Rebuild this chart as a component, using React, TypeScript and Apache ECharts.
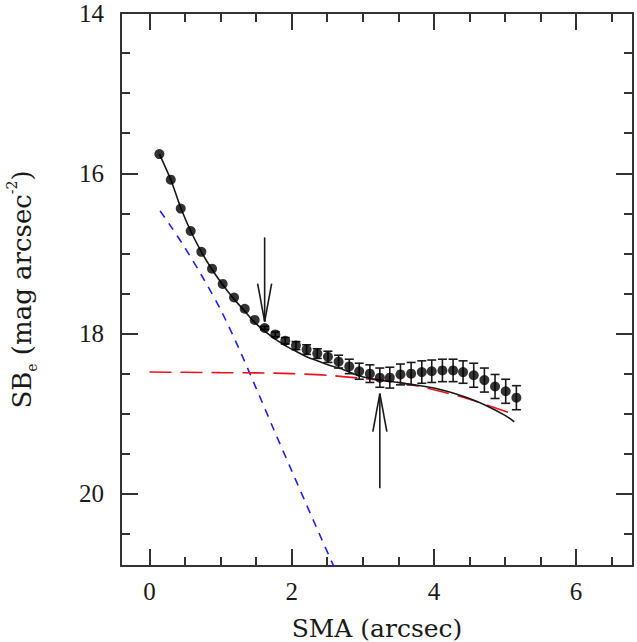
import React, { useEffect, useRef } from "react";
import * as echarts from "echarts";

// ---- data ----
const xMajor = [0, 2, 4, 6];
const xMinor = [0.5, 1, 1.5, 2.5, 3, 3.5, 4.5, 5, 5.5, 6.5];
const yMajor = [14, 16, 18, 20];
const yMinor = [14.5, 15, 15.5, 16.5, 17, 17.5, 18.5, 19, 19.5, 20.5];

const dataX = [0.14, 0.3, 0.44, 0.58, 0.73, 0.88, 1.03, 1.19, 1.34, 1.48, 1.62, 1.77, 1.91, 2.06, 2.21, 2.36, 2.51, 2.66, 2.81, 2.95, 3.1, 3.24, 3.38, 3.53, 3.68, 3.83, 3.97, 4.12, 4.27, 4.41, 4.56, 4.71, 4.86, 5.01, 5.16];
const dataY = [15.76, 16.08, 16.44, 16.72, 16.98, 17.19, 17.38, 17.55, 17.69, 17.83, 17.93, 18.01, 18.09, 18.15, 18.2, 18.25, 18.29, 18.35, 18.41, 18.47, 18.5, 18.55, 18.55, 18.51, 18.5, 18.48, 18.47, 18.46, 18.46, 18.48, 18.52, 18.58, 18.66, 18.72, 18.8];
const dataErr = [0, 0, 0, 0, 0, 0, 0, 0, 0, 0, 0.02, 0.03, 0.04, 0.05, 0.06, 0.06, 0.07, 0.08, 0.09, 0.1, 0.11, 0.12, 0.13, 0.13, 0.14, 0.14, 0.14, 0.14, 0.14, 0.14, 0.15, 0.15, 0.15, 0.15, 0.15];

const blackX = [0.14, 0.3, 0.44, 0.58, 0.73, 0.88, 1.03, 1.19, 1.34, 1.48, 1.62, 1.77, 1.91, 2.06, 2.21, 2.36, 2.51, 2.73, 2.96, 3.24, 3.66, 4.0, 4.22, 4.5, 4.74, 5.0, 5.13];
const blackY = [15.76, 16.08, 16.43, 16.72, 16.98, 17.2, 17.39, 17.57, 17.72, 17.86, 17.97, 18.07, 18.15, 18.22, 18.29, 18.34, 18.39, 18.45, 18.53, 18.58, 18.63, 18.68, 18.73, 18.81, 18.9, 19.02, 19.1];

const blueX = [0.15, 0.3, 0.5, 0.75, 1.0, 1.25, 1.5, 1.75, 2.0, 2.3, 2.65];
const blueY = [16.47, 16.66, 16.93, 17.3, 17.7, 18.17, 18.68, 19.2, 19.71, 20.32, 21.02];

const redX = [0.0, 0.5, 1.0, 1.5, 2.0, 2.5, 3.0, 3.5, 4.0, 4.5, 5.13];
const redY = [18.48, 18.483, 18.487, 18.49, 18.5, 18.52, 18.56, 18.61, 18.7, 18.82, 19.01];

const arrowX = [1.62, 3.24];
const arrowFrom = [16.8, 19.93];
const arrowTo = [17.85, 18.75];

const X_MIN = -0.4;
const X_MAX = 6.8;
const Y_MIN = 14;
const Y_MAX = 20.9;

const INK = "#1a1a1a";
const FRAME = "#333333";
const TICK_FONT = "Liberation Serif";
const TITLE_FONT = "DejaVu Serif";

function xAxisDef(position: "bottom" | "top", values: number[], len: number, labels: boolean, line: boolean) {
  return {
    type: "value",
    position,
    min: X_MIN,
    max: X_MAX,
    axisLine: { show: line, onZero: false, lineStyle: { color: FRAME, width: 2 } },
    axisTick: { show: true, inside: true, length: len, customValues: values, lineStyle: { color: FRAME, width: 2 } },
    axisLabel: labels
      ? { show: true, customValues: values, margin: 13, fontSize: 25, fontFamily: TICK_FONT, color: INK }
      : { show: false },
    splitLine: { show: false },
  };
}

function yAxisDef(position: "left" | "right", values: number[], len: number, labels: boolean, line: boolean) {
  return {
    type: "value",
    position,
    inverse: true,
    min: Y_MIN,
    max: Y_MAX,
    axisLine: { show: line, onZero: false, lineStyle: { color: FRAME, width: 2 } },
    axisTick: { show: true, inside: true, length: len, customValues: values, lineStyle: { color: FRAME, width: 2 } },
    axisLabel: labels
      ? { show: true, customValues: values, margin: 17, fontSize: 25, fontFamily: TICK_FONT, color: INK }
      : { show: false },
    splitLine: { show: false },
  };
}

export default function App() {
  const ref = useRef<HTMLDivElement>(null);

  useEffect(() => {
    if (!ref.current) return;
    const chart = echarts.init(ref.current, undefined, { renderer: "svg" });

    const points = dataX.map((x, i) => [x, dataY[i]]);
    const errs = dataX
      .map((x, i) => [x, dataY[i] - dataErr[i], dataY[i] + dataErr[i], dataErr[i]])
      .filter((d) => d[3] > 0);
    const black = blackX.map((x, i) => [x, blackY[i]]);
    const blue = blueX.map((x, i) => [x, blueY[i]]);
    const red = redX.map((x, i) => [x, redY[i]]);
    const arrows = arrowX.map((x, i) => [x, arrowFrom[i], arrowTo[i]]);

    const xMain: any = xAxisDef("bottom", xMajor, 17, true, true);
    xMain.name = "SMA (arcsec)";
    xMain.nameLocation = "middle";
    xMain.nameGap = 50;
    xMain.nameTextStyle = { fontFamily: TITLE_FONT, fontSize: 25, color: INK };

    const yMain: any = yAxisDef("left", yMajor, 17, true, true);
    yMain.name = "{a|SB}{s|e}{a| (mag arcsec}{p|-2}{a|)}";
    yMain.nameLocation = "middle";
    yMain.nameGap = 82;
    yMain.nameRotate = 90;
    yMain.nameTextStyle = {
      fontFamily: TITLE_FONT,
      fontSize: 26,
      color: INK,
      rich: {
        a: { fontFamily: TITLE_FONT, fontSize: 26, color: INK, lineHeight: 34, verticalAlign: "middle" },
        s: { fontFamily: TITLE_FONT, fontSize: 14, color: INK, lineHeight: 34, verticalAlign: "bottom" },
        p: { fontFamily: TITLE_FONT, fontSize: 14, color: INK, lineHeight: 34, verticalAlign: "top" },
      },
    };

    chart.setOption({
      animation: false,
      backgroundColor: "#ffffff",
      grid: { left: 121, right: 4, top: 13, bottom: 76, containLabel: false, outerBoundsMode: "none" },
      xAxis: [
        xMain,
        xAxisDef("bottom", xMinor, 9, false, false),
        xAxisDef("top", xMajor, 17, false, true),
        xAxisDef("top", xMinor, 9, false, false),
      ],
      yAxis: [
        yMain,
        yAxisDef("left", yMinor, 9, false, false),
        yAxisDef("right", yMajor, 17, false, true),
        yAxisDef("right", yMinor, 9, false, false),
      ],
      series: [
        {
          type: "line",
          data: blue,
          smooth: 0.3,
          showSymbol: false,
          symbol: "none",
          clip: true,
          lineStyle: { color: "#1f1fff", width: 1.6, type: [8, 7] },
          z: 2,
        },
        {
          type: "line",
          data: red,
          smooth: 0.3,
          showSymbol: false,
          symbol: "none",
          clip: true,
          lineStyle: { color: "#e8141b", width: 1.6, type: [22, 9] },
          z: 2,
        },
        {
          type: "line",
          data: black,
          smooth: 0.3,
          showSymbol: false,
          symbol: "none",
          clip: true,
          lineStyle: { color: INK, width: 1.6 },
          z: 3,
        },
        {
          type: "custom",
          data: errs,
          z: 4,
          renderItem: (params: any, api: any) => {
            const x = api.value(0);
            const lo = api.coord([x, api.value(1)]);
            const hi = api.coord([x, api.value(2)]);
            const w = 4.5;
            const st = { stroke: INK, lineWidth: 1.6 };
            return {
              type: "group",
              children: [
                { type: "line", shape: { x1: lo[0], y1: lo[1], x2: hi[0], y2: hi[1] }, style: st },
                { type: "line", shape: { x1: lo[0] - w, y1: lo[1], x2: lo[0] + w, y2: lo[1] }, style: st },
                { type: "line", shape: { x1: hi[0] - w, y1: hi[1], x2: hi[0] + w, y2: hi[1] }, style: st },
              ],
            };
          },
        },
        {
          type: "scatter",
          data: points,
          symbol: "circle",
          symbolSize: 10,
          itemStyle: { color: "#000000" },
          z: 5,
        },
        {
          type: "custom",
          data: arrows,
          z: 6,
          renderItem: (params: any, api: any) => {
            const x = api.value(0);
            const p0 = api.coord([x, api.value(1)]);
            const p1 = api.coord([x, api.value(2)]);
            const dir = p1[1] > p0[1] ? 1 : -1;
            const hl = 38;
            const hw = 7;
            const st = { stroke: INK, lineWidth: 1.6 };
            return {
              type: "group",
              children: [
                { type: "line", shape: { x1: p0[0], y1: p0[1], x2: p1[0], y2: p1[1] }, style: st },
                { type: "line", shape: { x1: p1[0], y1: p1[1], x2: p1[0] - hw, y2: p1[1] - dir * hl }, style: st },
                { type: "line", shape: { x1: p1[0], y1: p1[1], x2: p1[0] + hw, y2: p1[1] - dir * hl }, style: st },
              ],
            };
          },
        },
      ],
    });

    return () => chart.dispose();
  }, []);

  return (
    <div
      ref={ref}
      style={{ position: "fixed", left: 0, top: 0, width: 637, height: 642, background: "#fff" }}
    />
  );
}
